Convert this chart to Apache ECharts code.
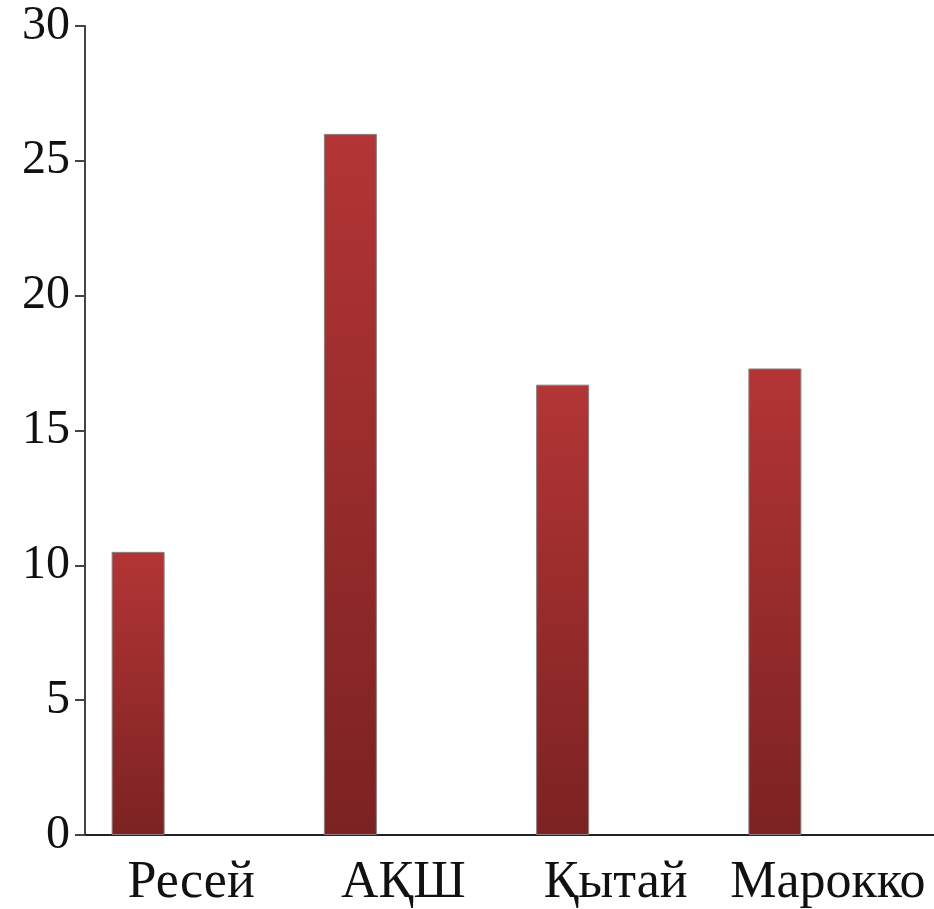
<!DOCTYPE html>
<html>
<head>
<meta charset="utf-8">
<script src="https://cdn.jsdelivr.net/npm/echarts@6/dist/echarts.min.js"></script>
<style>
  html, body { margin: 0; padding: 0; background: #fff; }
  #chart { width: 934px; height: 909px; }
</style>
</head>
<body>
<div id="chart"></div>
<script>
// Countries and their values
const categories = ['Ресей', 'АҚШ', 'Қытай', 'Марокко'];
const values = [10.5, 26, 16.7, 17.3];
const emptySeries = [null, null, null, null];
const yTicks = { min: 0, max: 30, interval: 5 };

const chart = echarts.init(document.getElementById('chart'), null, { renderer: 'canvas' });
const font = '"Liberation Serif", "Times New Roman", serif';

chart.setOption({
  animation: false,
  grid: { left: 85, right: 0, top: 26, bottom: 71 },
  xAxis: {
    type: 'category',
    data: categories,
    axisLine: { lineStyle: { color: '#222', width: 2 } },
    axisTick: { show: false },
    axisLabel: { interval: 0, fontFamily: font, fontSize: 52, color: '#111', margin: 22 }
  },
  yAxis: {
    type: 'value',
    min: yTicks.min, max: yTicks.max, interval: yTicks.interval,
    splitLine: { show: false },
    axisLine: { show: true, lineStyle: { color: '#444', width: 2 } },
    axisTick: { show: true, length: 10, lineStyle: { color: '#444', width: 2 } },
    axisLabel: { fontFamily: font, fontSize: 48, color: '#111', margin: 15 }
  },
  series: [
    {
      type: 'bar',
      data: values,
      barWidth: 53,
      barGap: '100%',
      itemStyle: {
        color: new echarts.graphic.LinearGradient(0, 0, 0, 1, [
          { offset: 0, color: '#b33535' },
          { offset: 1, color: '#7c2222' }
        ]),
        borderColor: '#8a8080',
        borderWidth: 1
      }
    },
    {
      type: 'bar',
      data: emptySeries,
      barWidth: 53
    }
  ]
});
</script>
</body>
</html>
